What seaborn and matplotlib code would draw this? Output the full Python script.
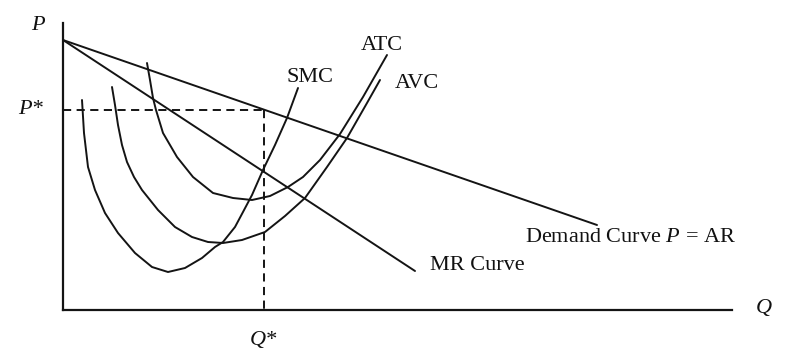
import numpy as np
import pandas as pd
import matplotlib
matplotlib.use("Agg")
import matplotlib.pyplot as plt
import seaborn as sns

# ---- data (diagram units) ----
smc_q = [19, 21, 25, 32, 42, 55, 72, 89, 105, 122, 139, 152, 160, 172, 180, 189, 200, 212, 224, 235]
smc_p = [210, 177, 143, 120, 97, 77, 57, 43, 38, 42, 52, 63, 68, 83, 98, 115, 140, 165, 192, 222]

avc_q = [49, 52, 55, 59, 64, 71, 79, 95, 112, 129, 145, 160, 179, 202, 222, 242, 264, 284, 304, 317]
avc_p = [223, 205, 185, 165, 148, 133, 120, 100, 83, 73, 68, 67, 70, 78, 94, 112, 143, 172, 207, 230]

atc_q = [84, 87, 90, 93, 100, 114, 130, 150, 170, 189, 207, 225, 240, 257, 277, 300, 324]
atc_p = [247, 230, 212, 200, 177, 153, 133, 117, 112, 110, 114, 123, 133, 150, 176, 213, 255]

demand_q = [0, 534]
demand_p = [270, 85]

mr_q = [0, 352]
mr_p = [270, 39]

p_star = 200
q_star = 201

x_max = 669
y_max = 287

curve_labels = ["SMC", "ATC", "AVC"]

# ---- style ----
sns.set_style("white")
plt.rcParams['font.family'] = ['Liberation Serif', 'DejaVu Serif']
plt.rcParams['mathtext.fontset'] = 'custom'
plt.rcParams['mathtext.it'] = 'Liberation Serif:italic'
plt.rcParams['mathtext.rm'] = 'Liberation Serif'

W, H = 786, 362
fig = plt.figure(figsize=(W / 100, H / 100), dpi=100)
ax = fig.add_axes([63 / W, 52 / H, 669 / W, 287 / H])

LC = "#141414"
LW = 1.4

def draw(q, p, **kw):
    df = pd.DataFrame({"Q": q, "P": p})
    sns.lineplot(data=df, x="Q", y="P", sort=False, estimator=None,
                 color=LC, lw=LW, ax=ax, solid_capstyle="round",
                 solid_joinstyle="round", **kw)

draw(smc_q, smc_p)
draw(avc_q, avc_p)
draw(atc_q, atc_p)
draw(demand_q, demand_p)
draw(mr_q, mr_p)

# dashed guides
draw([0, q_star], [p_star, p_star], linestyle=(0, (4.2, 2.8)))
draw([q_star, q_star], [p_star, 0], linestyle=(0, (4.2, 2.8)))

ax.set_xlim(0, x_max)
ax.set_ylim(0, y_max)
ax.set_xticks([])
ax.set_yticks([])
ax.set_xlabel("")
ax.set_ylabel("")
for s in ["top", "right"]:
    ax.spines[s].set_visible(False)
for s in ["left", "bottom"]:
    ax.spines[s].set_color(LC)
    ax.spines[s].set_linewidth(1.6)
ax.patch.set_alpha(0)

fs = 16
tkw = dict(fontsize=fs, color="#111111", clip_on=False)
ax.text(-25, 285, "P", style="italic", ha="center", va="center", **tkw)
ax.text(-32, 200, "P*", style="italic", ha="center", va="center", **tkw)
ax.text(247, 232, curve_labels[0], ha="center", va="center", **tkw)
ax.text(319, 265, curve_labels[1], ha="center", va="center", **tkw)
ax.text(354, 227, curve_labels[2], ha="center", va="center", **tkw)
ax.text(462, 72, "Demand Curve $P$ = AR", ha="left", va="center", **tkw)
ax.text(367, 44, "MR Curve", ha="left", va="center", **tkw)
ax.text(701, 1, "Q", style="italic", ha="center", va="center", **tkw)
ax.text(q_star - 1, -31, "Q*", style="italic", ha="center", va="center", **tkw)

fig.savefig("out.png", dpi=100, facecolor="white")
